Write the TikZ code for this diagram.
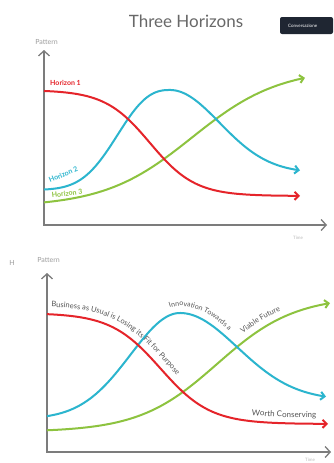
\documentclass[tikz,border=0pt]{standalone}
\usepackage{fontspec}
\setmainfont{Lato}
\usetikzlibrary{arrows.meta,decorations.text}
\definecolor{hred}{HTML}{E5242A}
\definecolor{hblue}{HTML}{2BB5CE}
\definecolor{hgreen}{HTML}{8DC33F}
\definecolor{axisgray}{HTML}{7C7C7C}
\definecolor{labgray}{HTML}{9C9C9C}
\definecolor{titlegray}{HTML}{686868}
\definecolor{textgray}{HTML}{555555}
\definecolor{navy}{HTML}{1F2632}
\begin{document}
\begin{tikzpicture}[x=1pt,y=-1pt,
  declare function={
    sig(\t)=1/(1+exp(-(\t)));
    gau(\t)=exp(-(\t)*(\t));
    bel(\t)=exp(-pow(abs(\t)+0.0001,2.5));
    % bottom curves (screen y, downward) and their slopes
    rf(\t)=313+111*sig((\t-160.5)/24.9);
    rfd(\t)=111/24.9*sig((\t-160.5)/24.9)*(1-sig((\t-160.5)/24.9));
    bf(\t)=ifthenelse(\t<180, 419-106*gau((\t-180)/70), 400-87*gau((\t-180)/81));
    bfd(\t)=ifthenelse(\t<180, 2*106*((\t-180)/70)/70*gau((\t-180)/70), 2*87*((\t-180)/81)/81*gau((\t-180)/81));
    gf(\t)=432-136*sig((\t-217)/39);
    gfd(\t)=-136/39*sig((\t-217)/39)*(1-sig((\t-217)/39));
  },
  axisline/.style={draw=axisgray, line width=1.3pt,
    {Straight Barb[length=5pt,width=11pt]}-{Straight Barb[length=5pt,width=11pt]}},
  curve/.style={line width=2pt, -{Straight Barb[length=4pt,width=8pt]}},
  axlabel/.style={text=labgray, font=\fontsize{7}{8}\selectfont, inner sep=0pt},
  timelabel/.style={text=labgray!70, font=\fontsize{4.5}{5}\selectfont, inner sep=0pt},
  hlabel/.style={font=\fontsize{7}{8}\selectfont\bfseries, inner sep=0pt, anchor=base west},
  alongtext/.style={decorate, decoration={text along path, text color=textgray}},
]
\useasboundingbox[fill=white] (0,0) rectangle (333,463);

% title and badge
\node[text=titlegray, font=\fontsize{17}{18}\selectfont, inner sep=0pt] (title) at (186,21.5) {Three Horizons};
\fill[navy, rounded corners=2pt] (280,17) rectangle (333,34);
\node[text=white, font=\fontsize{4.5}{5}\selectfont, anchor=west, inner sep=0pt] (conv) at (288,25.5) {Conversazione};

% ---------- top chart ----------
\node[axlabel] (pat1) at (46.5,42) {Pattern};
\coordinate (ytop1) at (44,50);
\coordinate (orig1) at (44,225);
\coordinate (xend1) at (327,225);
\draw[axisline] (ytop1) -- (orig1) -- (xend1);
\node[timelabel] (time1) at (298,238) {Time};

\draw[curve, hgreen] plot[domain=44:305, samples=120] (\x,{207-139*sig((\x-192)/43.9)});
\draw[curve, hblue] plot[domain=44:300, samples=120]
  (\x,{ifthenelse(\x<170, 190-100*bel((\x-170)/64.5), 173-83*gau((\x-170)/70))});
\draw[curve, hred] plot[domain=44:300, samples=120] (\x,{90+106*sig((\x-150)/22.6)});

\node[hlabel, text=hred] (h1) at (50,85.5) {Horizon 1};
\node[hlabel, text=hblue, rotate=23] (h2) at (50,183) {Horizon 2};
\node[hlabel, text=hgreen, rotate=7] (h3) at (52,198) {Horizon 3};

% ---------- bottom chart ----------
\node[axlabel] (hh) at (12,263) {H};
\node[axlabel] (pat2) at (48.5,260) {Pattern};
\coordinate (ytop2) at (47,273);
\coordinate (orig2) at (47,452);
\coordinate (xend2) at (331,452);
\draw[axisline] (ytop2) -- (orig2) -- (xend2);
\node[timelabel] (time2) at (310,459.5) {Time};

\draw[curve, hgreen] plot[domain=47:330, samples=120] (\x,{gf(\x)});
\draw[curve, hblue] plot[domain=47:326, samples=120] (\x,{bf(\x)});
\draw[curve, hred] plot[domain=47:328, samples=120] (\x,{rf(\x)});

% texts along offset copies of the curves
\path[alongtext, decoration={text={|\fontsize{7.5}{8}\selectfont|Business as Usual is Losing its Fit for Purpose}}]
  plot[domain=51:220, samples=120]
  ({\x+7.5*rfd(\x)/sqrt(1+rfd(\x)^2)},{rf(\x)-7.5/sqrt(1+rfd(\x)^2)});
\path[alongtext, decoration={text={|\fontsize{7}{8}\selectfont|Innovation Towards a}}]
  plot[domain=172:265, samples=80]
  ({\x+7*bfd(\x)/sqrt(1+bfd(\x)^2)},{bf(\x)-7/sqrt(1+bfd(\x)^2)});
\path[alongtext, decoration={text={|\fontsize{7.5}{8}\selectfont|Viable Future}}]
  plot[domain=247:318, samples=60]
  ({\x+7*gfd(\x)/sqrt(1+gfd(\x)^2)},{gf(\x)-7/sqrt(1+gfd(\x)^2)});
\path[alongtext, decoration={text={|\fontsize{8}{9}\selectfont|Worth Conserving}}]
  plot[domain=251:330, samples=50]
  ({\x+6*rfd(\x)/sqrt(1+rfd(\x)^2)},{rf(\x)-6/sqrt(1+rfd(\x)^2)});
\end{tikzpicture}
\end{document}
